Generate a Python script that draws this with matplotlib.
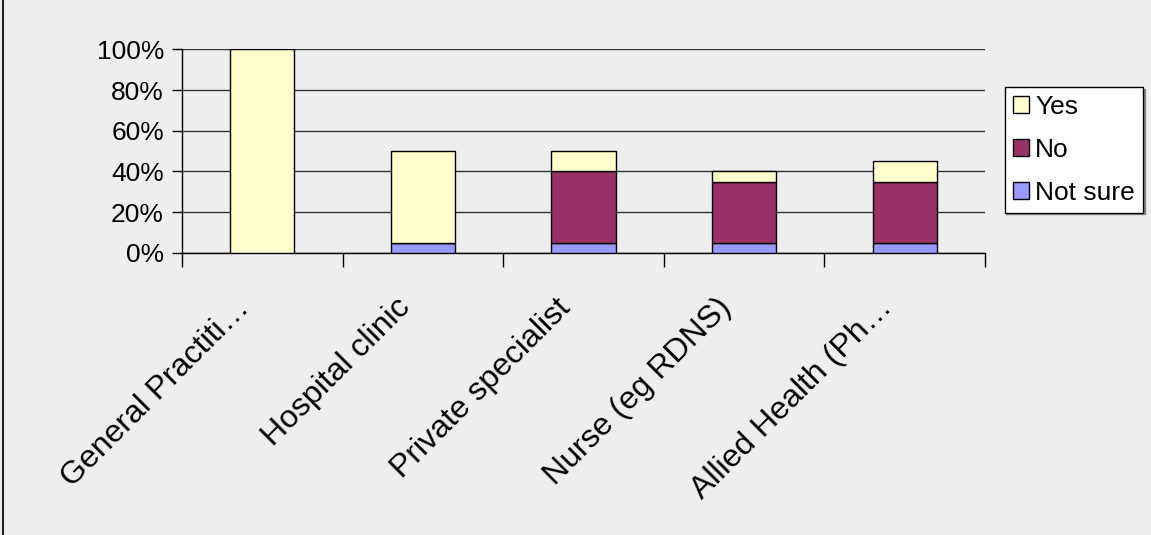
import matplotlib
matplotlib.use("Agg")
import matplotlib.pyplot as plt
from matplotlib.lines import Line2D
from matplotlib.transforms import offset_copy
import numpy as np

categories = ["General Practiti…", "Hospital clinic", "Private specialist",
              "Nurse (eg RDNS)", "Allied Health (Ph…"]
not_sure = [0, 5, 5, 5, 5]
no = [0, 0, 35, 30, 30]
yes = [100, 45, 10, 5, 10]
series_names = ["Yes", "No", "Not sure"]
series_colors = {"Yes": "#FFFFCC", "No": "#993366", "Not sure": "#9999FF"}
yticks = [0, 20, 40, 60, 80, 100]
ytick_labels = ["0%", "20%", "40%", "60%", "80%", "100%"]

plt.rcParams["font.family"] = ["Liberation Sans", "DejaVu Sans"]
bg = "#EEEEEE"

fig = plt.figure(figsize=(11.51, 5.35), dpi=100, facecolor=bg)
ax = fig.add_axes([0.1581, 0.5277, 0.6977, 0.3798])
ax.set_facecolor(bg)

x = np.arange(len(categories))
w = 0.4
bottom_no = np.array(not_sure)
bottom_yes = bottom_no + np.array(no)
ax.bar(x, not_sure, w, color=series_colors["Not sure"], edgecolor="black", linewidth=1, zorder=3)
ax.bar(x, no, w, bottom=bottom_no, color=series_colors["No"], edgecolor="black", linewidth=1, zorder=3)
ax.bar(x, yes, w, bottom=bottom_yes, color=series_colors["Yes"], edgecolor="black", linewidth=1, zorder=3)

ax.set_xlim(-0.5, len(categories) - 0.5)
ax.set_ylim(0, 100)
ax.set_yticks(yticks)
ax.set_yticklabels(ytick_labels, fontsize=19)
ax.tick_params(axis="y", length=7, width=1, color="black", pad=6)
ax.yaxis.grid(True, color="#333333", linewidth=1, zorder=0)

# category boundaries carry the x ticks; labels are drawn separately
ax.set_xticks(np.arange(-0.5, len(categories), 1.0))
ax.set_xticklabels([])
ax.tick_params(axis="x", length=10, width=1, color="black")

for side in ["top", "right"]:
    ax.spines[side].set_visible(False)
ax.spines["left"].set_linewidth(1)
ax.spines["bottom"].set_linewidth(1)

# slanted category labels hanging from a point left of each category centre
label_tr = offset_copy(ax.get_xaxis_transform(), fig=fig, x=-28, y=-40, units="dots")
for i, lab in enumerate(categories):
    ax.text(i, 0, lab, transform=label_tr, rotation=45, rotation_mode="anchor",
            ha="right", va="top", fontsize=23, color="black", clip_on=False)

handles = [plt.Rectangle((0, 0), 1, 1, facecolor=series_colors[n], edgecolor="black", linewidth=1)
           for n in series_names]
leg = fig.legend(handles, series_names, loc="upper left", bbox_to_anchor=(0.873, 0.8374),
                 fontsize=19, frameon=True, fancybox=False, edgecolor="black",
                 facecolor="white", framealpha=1, handlelength=0.6, handleheight=0.6,
                 handletextpad=0.25, labelspacing=0.72, borderpad=0.3, borderaxespad=0,
                 shadow={"color": "#888888", "ox": 1.2, "oy": -1.2, "alpha": 1})
leg.get_frame().set_linewidth(1)

fig.add_artist(Line2D([2.5 / 1151, 2.5 / 1151], [0, 1], transform=fig.transFigure,
                      color="#222222", linewidth=1.5))

fig.savefig("out.png", dpi=100, facecolor=bg)
